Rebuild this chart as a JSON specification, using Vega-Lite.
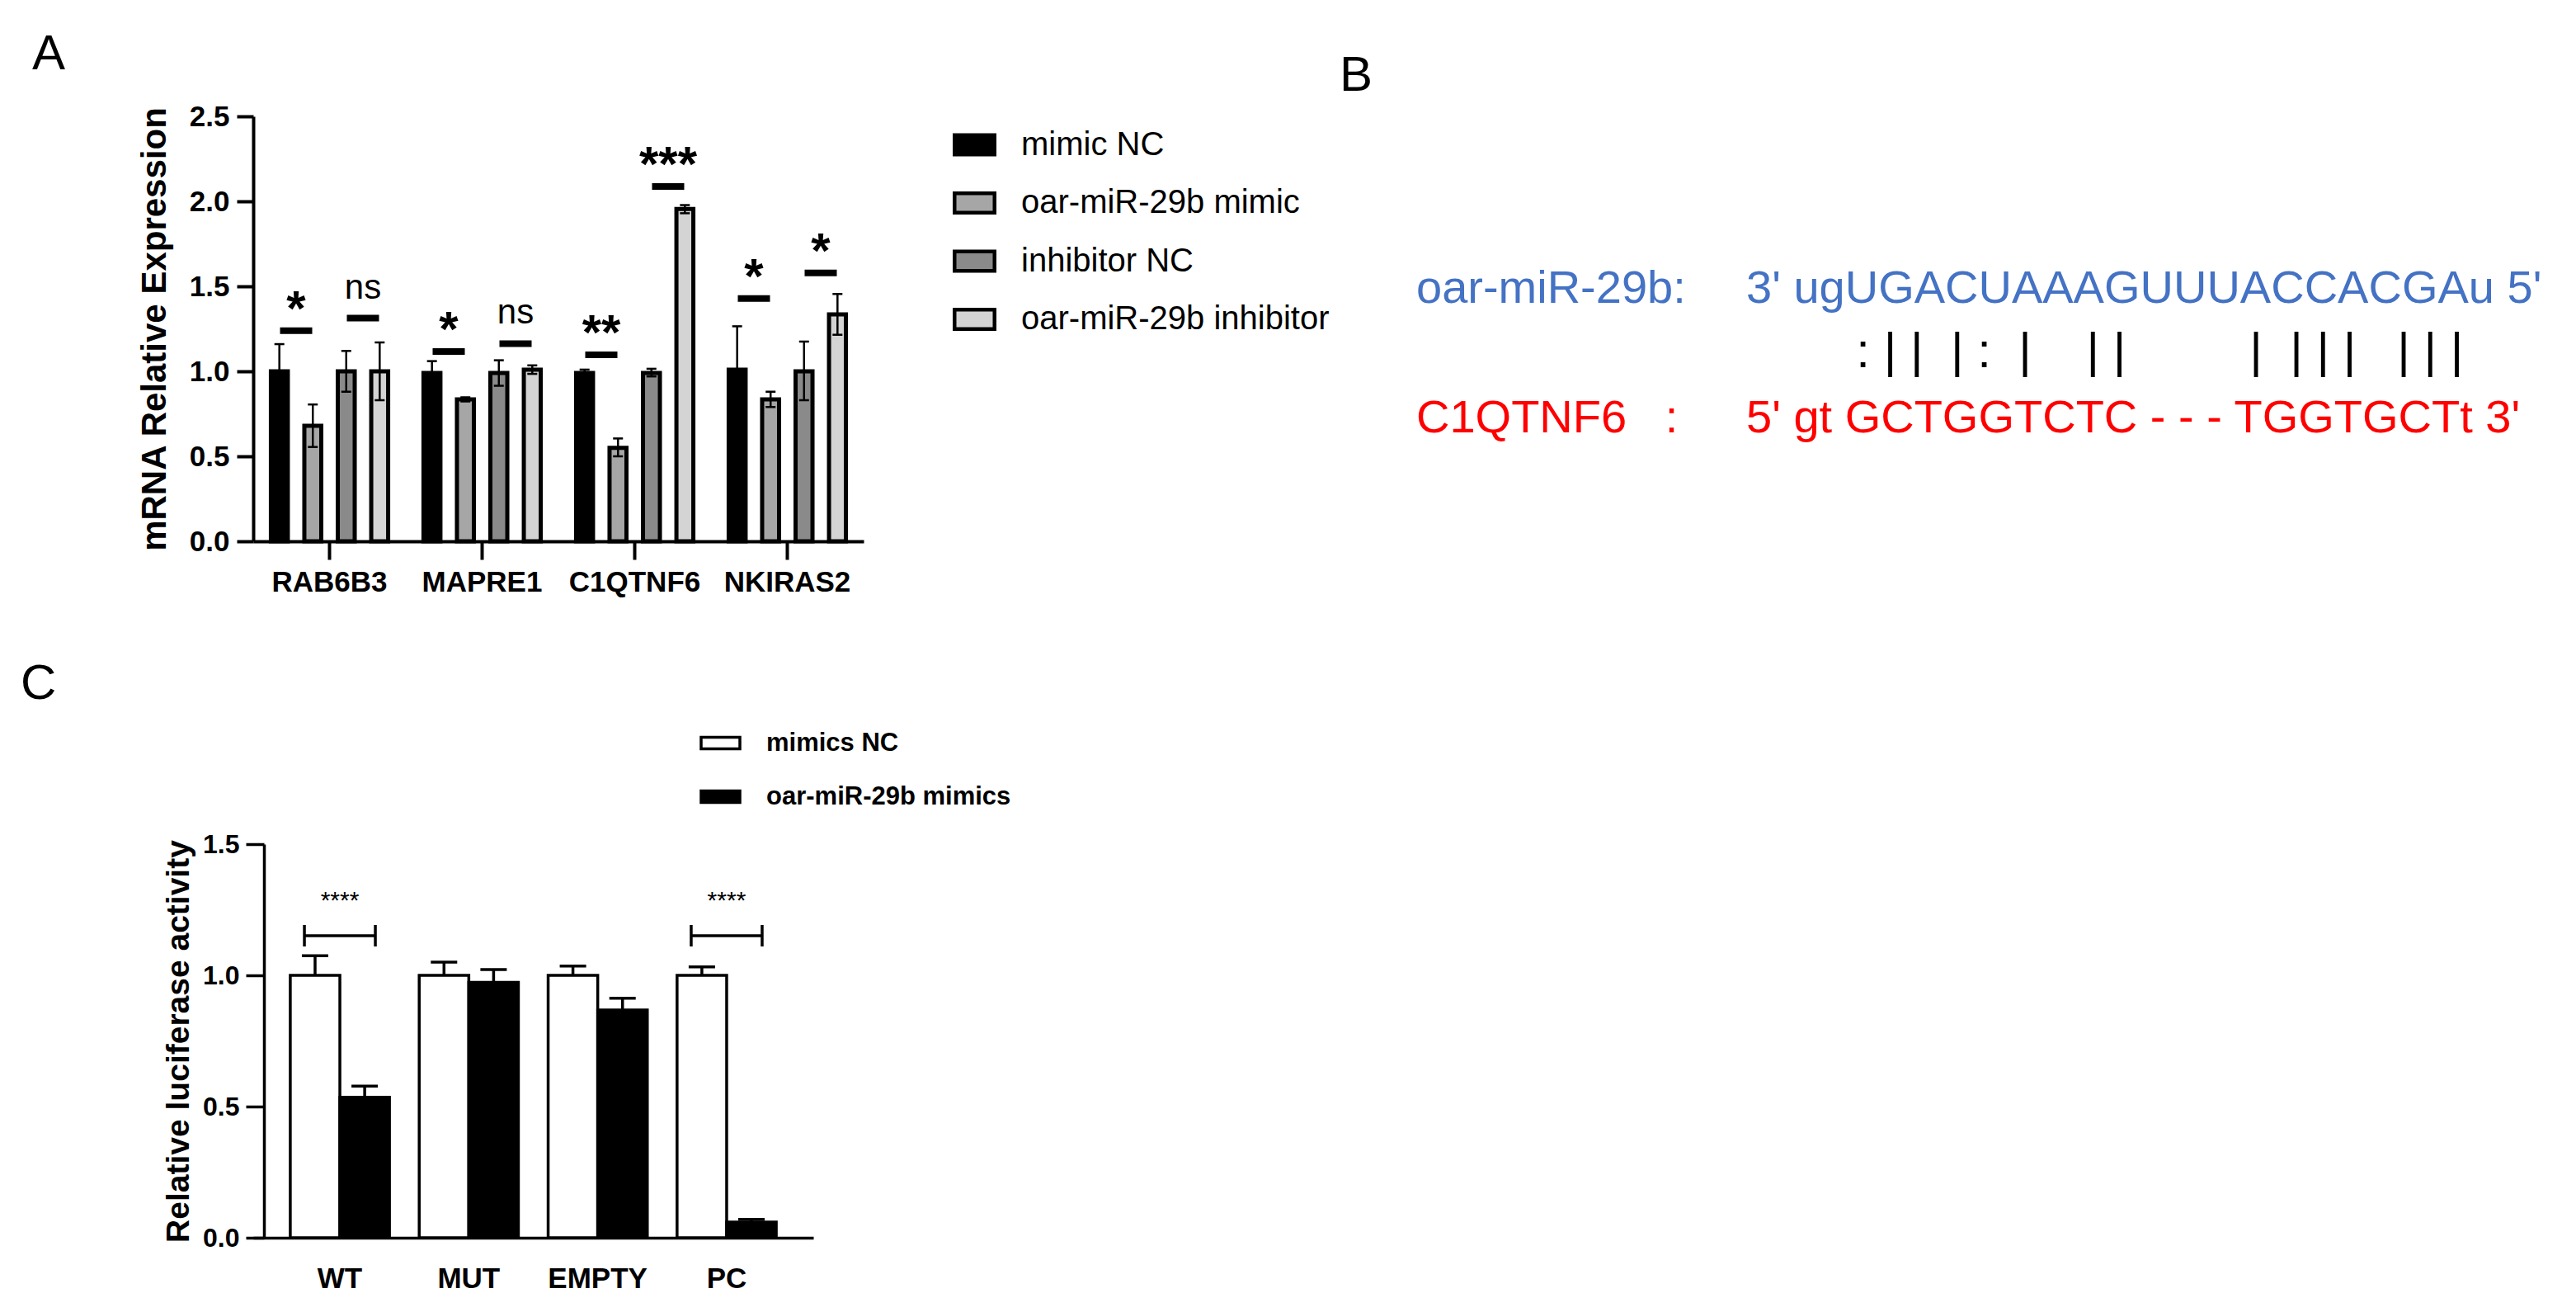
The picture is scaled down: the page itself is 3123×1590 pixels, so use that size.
{
  "$schema": "https://vega.github.io/schema/vega-lite/v6.json",
  "padding": {"left": 25, "top": 36, "right": 5, "bottom": 5},
  "autosize": {"type": "pad"},
  "bounds": "flush",
  "columns": 2,
  "spacing": {"row": 367, "column": 670},
  "resolve": {"scale": {"fill": "independent", "color": "independent"}, "legend": {"fill": "independent", "color": "independent"}},
  "config": {
    "view": {"stroke": null},
    "axis": {"grid": false, "domainColor": "black", "tickColor": "black", "labelColor": "black", "titleColor": "black", "labelFont": "Liberation Sans", "titleFont": "Liberation Sans"},
    "legend": {"labelFont": "Liberation Sans", "labelColor": "black", "labelLimit": 2000},
    "title": {"font": "Liberation Sans", "color": "black"},
    "text": {"font": "Liberation Sans"},
    "tick": {"opacity": 1}
  },
  "datasets": {
    "barsA": [
      {"gene": "RAB6B3", "series": "mimic NC", "mean": 1.0, "lo": 0.84, "hi": 1.16},
      {"gene": "RAB6B3", "series": "oar-miR-29b mimic", "mean": 0.68, "lo": 0.555, "hi": 0.805},
      {"gene": "RAB6B3", "series": "inhibitor NC", "mean": 1.0, "lo": 0.88, "hi": 1.12},
      {"gene": "RAB6B3", "series": "oar-miR-29b inhibitor", "mean": 1.0, "lo": 0.83, "hi": 1.17},
      {"gene": "MAPRE1", "series": "mimic NC", "mean": 0.99, "lo": 0.92, "hi": 1.06},
      {"gene": "MAPRE1", "series": "oar-miR-29b mimic", "mean": 0.835, "lo": 0.823, "hi": 0.847},
      {"gene": "MAPRE1", "series": "inhibitor NC", "mean": 0.99, "lo": 0.915, "hi": 1.065},
      {"gene": "MAPRE1", "series": "oar-miR-29b inhibitor", "mean": 1.01, "lo": 0.985, "hi": 1.035},
      {"gene": "C1QTNF6", "series": "mimic NC", "mean": 0.99, "lo": 0.975, "hi": 1.01},
      {"gene": "C1QTNF6", "series": "oar-miR-29b mimic", "mean": 0.55, "lo": 0.5, "hi": 0.605},
      {"gene": "C1QTNF6", "series": "inhibitor NC", "mean": 0.99, "lo": 0.97, "hi": 1.015},
      {"gene": "C1QTNF6", "series": "oar-miR-29b inhibitor", "mean": 1.955, "lo": 1.93, "hi": 1.978},
      {"gene": "NKIRAS2", "series": "mimic NC", "mean": 1.01, "lo": 0.76, "hi": 1.265},
      {"gene": "NKIRAS2", "series": "oar-miR-29b mimic", "mean": 0.835, "lo": 0.79, "hi": 0.88},
      {"gene": "NKIRAS2", "series": "inhibitor NC", "mean": 1.0, "lo": 0.83, "hi": 1.175},
      {"gene": "NKIRAS2", "series": "oar-miR-29b inhibitor", "mean": 1.335, "lo": 1.215, "hi": 1.455}
    ],
    "sigA": [
      {"gene": "RAB6B3", "pair": "mimic", "y": 1.239, "label": "*"},
      {"gene": "RAB6B3", "pair": "inhibitor", "y": 1.313, "label": "ns"},
      {"gene": "MAPRE1", "pair": "mimic", "y": 1.116, "label": "*"},
      {"gene": "MAPRE1", "pair": "inhibitor", "y": 1.163, "label": "ns"},
      {"gene": "C1QTNF6", "pair": "mimic", "y": 1.097, "label": "**"},
      {"gene": "C1QTNF6", "pair": "inhibitor", "y": 2.087, "label": "***"},
      {"gene": "NKIRAS2", "pair": "mimic", "y": 1.429, "label": "*"},
      {"gene": "NKIRAS2", "pair": "inhibitor", "y": 1.579, "label": "*"}
    ],
    "seqB": [
      {"line": 1, "col": "label", "who": "mirna", "text": "oar-miR-29b:"},
      {"line": 1, "col": "seq", "who": "mirna", "text": "3' ugUGACUAAAGUUUACCACGAu 5'"},
      {"line": 2, "col": "seq", "who": "pair", "text": "\u200b\u00a0\u00a0\u00a0\u00a0\u00a0\u00a0\u00a0\u00a0:\u00a0|\u00a0|\u00a0\u00a0|\u00a0:\u00a0\u00a0|\u00a0\u00a0\u00a0\u00a0|\u00a0|\u00a0\u00a0\u00a0\u00a0\u00a0\u00a0\u00a0\u00a0\u00a0|\u00a0\u00a0|\u00a0|\u00a0|\u00a0\u00a0\u00a0|\u00a0|\u00a0|"},
      {"line": 3, "col": "label", "who": "target", "text": "C1QTNF6\u00a0\u00a0\u00a0:"},
      {"line": 3, "col": "seq", "who": "target", "text": "5' gt GCTGGTCTC - - - TGGTGCTt 3'"}
    ],
    "barsC": [
      {"grp": "WT", "treat": "mimics NC", "mean": 1.0, "hi": 1.075},
      {"grp": "WT", "treat": "oar-miR-29b mimics", "mean": 0.535, "hi": 0.578},
      {"grp": "MUT", "treat": "mimics NC", "mean": 1.0, "hi": 1.05},
      {"grp": "MUT", "treat": "oar-miR-29b mimics", "mean": 0.973, "hi": 1.022},
      {"grp": "EMPTY", "treat": "mimics NC", "mean": 1.0, "hi": 1.035},
      {"grp": "EMPTY", "treat": "oar-miR-29b mimics", "mean": 0.868, "hi": 0.913},
      {"grp": "PC", "treat": "mimics NC", "mean": 1.0, "hi": 1.032},
      {"grp": "PC", "treat": "oar-miR-29b mimics", "mean": 0.06, "hi": 0.07}
    ],
    "sigC": [
      {"grp": "WT", "y": 1.151, "label": "****"},
      {"grp": "PC", "y": 1.151, "label": "****"}
    ],
    "endsC": [
      {"grp": "WT", "end": "left", "y": 1.151},
      {"grp": "WT", "end": "right", "y": 1.151},
      {"grp": "PC", "end": "left", "y": 1.151},
      {"grp": "PC", "end": "right", "y": 1.151}
    ]
  },
  "concat": [
    {
      "width": 740,
      "height": 515,
      "title": {"text": "A", "anchor": "start", "frame": "group", "orient": "top", "offset": 27, "dx": -268, "fontSize": 60, "fontWeight": "normal"},
      "layer": [
        {
          "data": {"name": "barsA"},
          "mark": {"type": "bar", "stroke": "black", "strokeWidth": 5},
          "encoding": {
            "x": {"field": "gene", "type": "nominal", "sort": ["RAB6B3", "MAPRE1", "C1QTNF6", "NKIRAS2"], "scale": {"paddingInner": 0, "paddingOuter": 0},
              "axis": {"title": null, "labelAngle": 0, "labelFontSize": 35, "labelFontWeight": "bold", "tickSize": 22, "tickWidth": 4, "domainWidth": 4, "labelPadding": 10}},
            "xOffset": {"field": "series", "type": "nominal", "sort": ["mimic NC", "oar-miR-29b mimic", "inhibitor NC", "oar-miR-29b inhibitor"], "scale": {"paddingInner": 0.494, "paddingOuter": 0.5285}},
            "y": {"field": "mean", "type": "quantitative", "scale": {"domain": [0, 2.5], "nice": false},
              "axis": {"title": "mRNA Relative Expression", "values": [0, 0.5, 1, 1.5, 2, 2.5], "format": ".1f", "labelFontSize": 35, "labelFontWeight": "bold", "tickSize": 20, "tickWidth": 4, "domainWidth": 4, "labelPadding": 9, "titleFontSize": 42, "titleFontWeight": "bold", "titlePadding": 20}},
            "fill": {"field": "series", "type": "nominal", "sort": ["mimic NC", "oar-miR-29b mimic", "inhibitor NC", "oar-miR-29b inhibitor"],
              "scale": {"domain": ["mimic NC", "oar-miR-29b mimic", "inhibitor NC", "oar-miR-29b inhibitor"], "range": ["#000000", "#a6a6a6", "#8a8a8a", "#d4d4d4"]},
              "legend": {"orient": "none", "legendX": 848, "legendY": 8, "title": null, "padding": 0, "symbolType": "M-1,-0.485H1V0.485H-1Z", "symbolSize": 2352, "symbolStrokeColor": "black", "symbolStrokeWidth": 4.5, "symbolOpacity": 1, "labelFontSize": 40, "labelFontWeight": "normal", "labelOffset": 30, "rowPadding": 22.5}}
          }
        },
        {
          "data": {"name": "barsA"},
          "mark": {"type": "rule", "strokeWidth": 2.5, "color": "black"},
          "encoding": {
            "x": {"field": "gene", "type": "nominal", "sort": ["RAB6B3", "MAPRE1", "C1QTNF6", "NKIRAS2"]},
            "xOffset": {"field": "series", "type": "nominal", "sort": ["mimic NC", "oar-miR-29b mimic", "inhibitor NC", "oar-miR-29b inhibitor"], "scale": {"paddingInner": 0.494, "paddingOuter": 0.5285}},
            "y": {"field": "lo", "type": "quantitative"},
            "y2": {"field": "hi"}
          }
        },
        {
          "data": {"name": "barsA"},
          "mark": {"type": "tick", "orient": "horizontal", "size": 12, "thickness": 2.5, "color": "black", "opacity": 1},
          "encoding": {
            "x": {"field": "gene", "type": "nominal", "sort": ["RAB6B3", "MAPRE1", "C1QTNF6", "NKIRAS2"]},
            "xOffset": {"field": "series", "type": "nominal", "sort": ["mimic NC", "oar-miR-29b mimic", "inhibitor NC", "oar-miR-29b inhibitor"], "scale": {"paddingInner": 0.494, "paddingOuter": 0.5285}},
            "y": {"field": "hi", "type": "quantitative"}
          }
        },
        {
          "data": {"name": "barsA"},
          "mark": {"type": "tick", "orient": "horizontal", "size": 12, "thickness": 2.5, "color": "black", "opacity": 1},
          "encoding": {
            "x": {"field": "gene", "type": "nominal", "sort": ["RAB6B3", "MAPRE1", "C1QTNF6", "NKIRAS2"]},
            "xOffset": {"field": "series", "type": "nominal", "sort": ["mimic NC", "oar-miR-29b mimic", "inhibitor NC", "oar-miR-29b inhibitor"], "scale": {"paddingInner": 0.494, "paddingOuter": 0.5285}},
            "y": {"field": "lo", "type": "quantitative"}
          }
        },
        {
          "data": {"name": "sigA"},
          "mark": {"type": "tick", "orient": "horizontal", "size": 39, "thickness": 8, "color": "black", "opacity": 1},
          "encoding": {
            "x": {"field": "gene", "type": "nominal", "sort": ["RAB6B3", "MAPRE1", "C1QTNF6", "NKIRAS2"]},
            "xOffset": {"field": "pair", "type": "nominal", "sort": ["mimic", "inhibitor"], "scale": {"paddingInner": 0, "paddingOuter": 0.142}},
            "y": {"field": "y", "type": "quantitative"}
          }
        },
        {
          "data": {"name": "sigA"},
          "transform": [{"filter": "datum.label !== 'ns' && datum.pair === 'mimic'"}],
          "mark": {"type": "text", "fontSize": 60, "fontWeight": "bold", "baseline": "alphabetic", "dx": -40.5, "dy": -7, "color": "black"},
          "encoding": {
            "x": {"field": "gene", "type": "nominal", "sort": ["RAB6B3", "MAPRE1", "C1QTNF6", "NKIRAS2"]},
            "y": {"field": "y", "type": "quantitative"},
            "text": {"field": "label"}
          }
        },
        {
          "data": {"name": "sigA"},
          "transform": [{"filter": "datum.label !== 'ns' && datum.pair === 'inhibitor'"}],
          "mark": {"type": "text", "fontSize": 60, "fontWeight": "bold", "baseline": "alphabetic", "dx": 40.5, "dy": -7, "color": "black"},
          "encoding": {
            "x": {"field": "gene", "type": "nominal", "sort": ["RAB6B3", "MAPRE1", "C1QTNF6", "NKIRAS2"]},
            "y": {"field": "y", "type": "quantitative"},
            "text": {"field": "label"}
          }
        },
        {
          "data": {"name": "sigA"},
          "transform": [{"filter": "datum.label === 'ns'"}],
          "mark": {"type": "text", "fontSize": 42, "fontWeight": "normal", "baseline": "alphabetic", "dx": 40.5, "dy": -24, "color": "black"},
          "encoding": {
            "x": {"field": "gene", "type": "nominal", "sort": ["RAB6B3", "MAPRE1", "C1QTNF6", "NKIRAS2"]},
            "y": {"field": "y", "type": "quantitative"},
            "text": {"field": "label"}
          }
        }
      ],
      "resolve": {"scale": {"xOffset": "independent"}}
    },
    {
      "width": 400,
      "height": 515,
      "title": {"text": "B", "anchor": "start", "frame": "group", "orient": "top", "offset": 18, "dx": -93, "fontSize": 60, "fontWeight": "normal"},
      "data": {"name": "seqB"},
      "layer": [
        {
          "transform": [{"filter": "datum.line !== 2"}],
          "mark": {"type": "text", "align": "left", "baseline": "alphabetic", "fontSize": 56},
          "encoding": {
            "x": {"field": "col", "type": "nominal", "scale": {"type": "point", "domain": ["label", "seq"], "padding": 0}, "axis": null},
            "y": {"field": "line", "type": "quantitative", "scale": {"domain": [-1.879, 4.682], "reverse": true, "nice": false, "zero": false}, "axis": null},
            "text": {"field": "text"},
            "color": {"field": "who", "type": "nominal", "scale": {"domain": ["mirna", "pair", "target"], "range": ["#4472C4", "#000000", "#FF0000"]}, "legend": null}
          }
        },
        {
          "transform": [{"filter": "datum.line === 2"}],
          "mark": {"type": "text", "align": "left", "baseline": "alphabetic", "fontSize": 60},
          "encoding": {
            "x": {"field": "col", "type": "nominal", "axis": null},
            "y": {"field": "line", "type": "quantitative", "axis": null},
            "text": {"field": "text"},
            "color": {"field": "who", "type": "nominal", "legend": null}
          }
        }
      ]
    },
    {
      "width": 679,
      "height": 477,
      "title": {"text": "C", "anchor": "start", "frame": "group", "orient": "top", "offset": 15, "dx": -282, "fontSize": 60, "fontWeight": "normal"},
      "layer": [
        {
          "data": {"name": "barsC"},
          "mark": {"type": "bar", "stroke": "black", "strokeWidth": 3.5},
          "encoding": {
            "x": {"field": "grp", "type": "nominal", "sort": ["WT", "MUT", "EMPTY", "PC"], "scale": {"paddingInner": 0, "paddingOuter": 0.172},
              "axis": {"title": null, "labelAngle": 0, "labelFontSize": 35, "labelFontWeight": "bold", "ticks": false, "tickSize": 0, "domainWidth": 3.5, "labelPadding": 32}},
            "xOffset": {"field": "treat", "type": "nominal", "sort": ["mimics NC", "oar-miR-29b mimics"], "scale": {"paddingInner": 0, "paddingOuter": 0.3}},
            "y": {"field": "mean", "type": "quantitative", "scale": {"domain": [0, 1.5], "nice": false},
              "axis": {"title": "Relative luciferase activity", "values": [0, 0.5, 1, 1.5], "format": ".1f", "offset": -13, "labelFontSize": 32, "labelFontWeight": "bold", "tickSize": 22, "tickWidth": 3.5, "domainWidth": 3.5, "labelPadding": 8, "titleFontSize": 39, "titleFontWeight": "bold", "titlePadding": 9}},
            "fill": {"field": "treat", "type": "nominal", "sort": ["mimics NC", "oar-miR-29b mimics"],
              "scale": {"domain": ["mimics NC", "oar-miR-29b mimics"], "range": ["#ffffff", "#000000"]},
              "legend": {"orient": "none", "legendX": 541, "legendY": -148, "title": null, "padding": 0, "symbolType": "M-1,-0.298H1V0.298H-1Z", "symbolSize": 2209, "symbolStrokeColor": "black", "symbolStrokeWidth": 3.5, "symbolOpacity": 1, "labelFontSize": 31, "labelFontWeight": "bold", "labelOffset": 30, "rowPadding": 24}}
          }
        },
        {
          "data": {"name": "barsC"},
          "mark": {"type": "rule", "strokeWidth": 3.5, "color": "black"},
          "encoding": {
            "x": {"field": "grp", "type": "nominal", "sort": ["WT", "MUT", "EMPTY", "PC"]},
            "xOffset": {"field": "treat", "type": "nominal", "sort": ["mimics NC", "oar-miR-29b mimics"], "scale": {"paddingInner": 0, "paddingOuter": 0.3}},
            "y": {"field": "mean", "type": "quantitative"},
            "y2": {"field": "hi"}
          }
        },
        {
          "data": {"name": "barsC"},
          "mark": {"type": "tick", "orient": "horizontal", "size": 32, "thickness": 3.5, "color": "black", "opacity": 1},
          "encoding": {
            "x": {"field": "grp", "type": "nominal", "sort": ["WT", "MUT", "EMPTY", "PC"]},
            "xOffset": {"field": "treat", "type": "nominal", "sort": ["mimics NC", "oar-miR-29b mimics"], "scale": {"paddingInner": 0, "paddingOuter": 0.3}},
            "y": {"field": "hi", "type": "quantitative"}
          }
        },
        {
          "data": {"name": "sigC"},
          "mark": {"type": "tick", "orient": "horizontal", "size": 86, "thickness": 3.5, "color": "black", "opacity": 1},
          "encoding": {
            "x": {"field": "grp", "type": "nominal", "sort": ["WT", "MUT", "EMPTY", "PC"]},
            "y": {"field": "y", "type": "quantitative"}
          }
        },
        {
          "data": {"name": "endsC"},
          "mark": {"type": "tick", "orient": "vertical", "size": 26, "thickness": 3.5, "color": "black", "opacity": 1},
          "encoding": {
            "x": {"field": "grp", "type": "nominal", "sort": ["WT", "MUT", "EMPTY", "PC"]},
            "xOffset": {"field": "end", "type": "nominal", "sort": ["left", "right"], "scale": {"paddingInner": 0.1826, "paddingOuter": 0}},
            "y": {"field": "y", "type": "quantitative"}
          }
        },
        {
          "data": {"name": "sigC"},
          "mark": {"type": "text", "fontSize": 30, "fontWeight": "normal", "baseline": "alphabetic", "dy": -33, "color": "black"},
          "encoding": {
            "x": {"field": "grp", "type": "nominal", "sort": ["WT", "MUT", "EMPTY", "PC"]},
            "y": {"field": "y", "type": "quantitative"},
            "text": {"field": "label"}
          }
        }
      ],
      "resolve": {"scale": {"xOffset": "independent"}}
    }
  ]
}
